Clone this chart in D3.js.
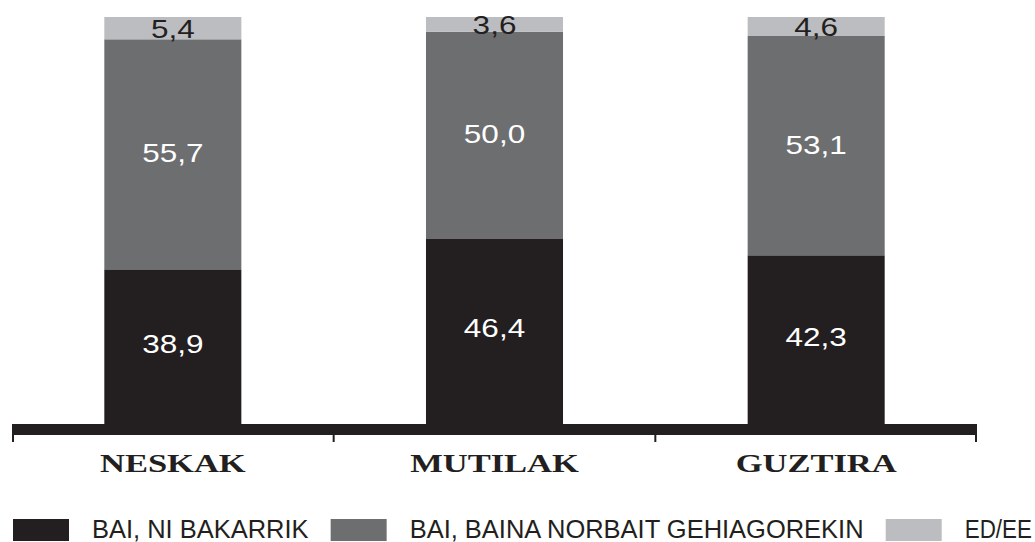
<!DOCTYPE html>
<html>
<head>
<meta charset="utf-8">
<script src="https://cdn.jsdelivr.net/npm/d3@7"></script>
<style>
  html, body { margin: 0; padding: 0; background: #fff; }
  svg { display: block; }
</style>
</head>
<body>
<svg id="chart" width="1035" height="542"></svg>
<script>
// Categories along the x axis
const categories = ["NESKAK", "MUTILAK", "GUZTIRA"];
// Series names (stack order, bottom to top)
const seriesNames = ["BAI, NI BAKARRIK", "BAI, BAINA NORBAIT GEHIAGOREKIN", "ED/EE"];
// Percentages per category for each series
const baiBakarrik = [38.9, 46.4, 42.3];
const baiNorbait  = [55.7, 50.0, 53.1];
const edEe        = [5.4, 3.6, 4.6];

const colors = ["#231f20", "#6d6e70", "#bcbdc0"];
const labelColors = ["#ffffff", "#ffffff", "#231f20"];
// vertical nudge of each series' value label from its segment centre
const labelShift = [3, 8, 9.5];

const width = 1035;
const svg = d3.select("#chart");

const rows = categories.map((c, i) => ({
  cat: c,
  s0: baiBakarrik[i],
  s1: baiNorbait[i],
  s2: edEe[i]
}));

const x = d3.scaleBand()
  .domain(categories)
  .range([12, 977])
  .paddingInner(0.574)
  .paddingOuter(0.287);

const y = d3.scaleLinear()
  .domain([0, 100])
  .range([430, 17]);

const stack = d3.stack().keys(["s0", "s1", "s2"]);
const layers = stack(rows);

// Stacked bars
const g = svg.append("g");
layers.forEach((layer, li) => {
  g.selectAll(null)
    .data(layer)
    .join("rect")
    .attr("x", d => x(d.data.cat))
    .attr("width", x.bandwidth())
    .attr("y", d => y(d[1]))
    .attr("height", d => y(d[0]) - y(d[1]))
    .attr("fill", colors[li]);
});

// Value labels (decimal comma)
const fmt = v => d3.format(".1f")(v).replace(".", ",");
const sxVal = 1.26;
layers.forEach((layer, li) => {
  g.selectAll(null)
    .data(layer)
    .join("text")
    .attr("transform", d => {
      const cx = x(d.data.cat) + x.bandwidth() / 2;
      const cy = (y(d[0]) + y(d[1])) / 2 + labelShift[li];
      return `translate(${cx},${cy}) scale(${sxVal},1)`;
    })
    .attr("text-anchor", "middle")
    .attr("font-family", "'Liberation Sans', Arial, sans-serif")
    .attr("font-size", 25)
    .attr("fill", labelColors[li])
    .text(d => fmt(d[1] - d[0]));
});

// Axis: thick baseline with ticks at band boundaries
const [r0, r1] = x.range();
const axisG = svg.append("g");
axisG.append("rect")
  .attr("x", r0)
  .attr("y", 424)
  .attr("width", r1 - r0)
  .attr("height", 11)
  .attr("fill", "#231f20");
const bounds = d3.range(categories.length + 1).map(i => r0 + i * x.step());
axisG.selectAll(null)
  .data(bounds)
  .join("line")
  .attr("x1", (d, i) => i === 0 ? d + 1 : (i === bounds.length - 1 ? d - 1 : d))
  .attr("x2", (d, i) => i === 0 ? d + 1 : (i === bounds.length - 1 ? d - 1 : d))
  .attr("y1", 434)
  .attr("y2", 442)
  .attr("stroke", "#231f20")
  .attr("stroke-width", 2);

// Category labels
const sxCat = 1.38;
axisG.selectAll(null)
  .data(categories)
  .join("text")
  .attr("transform", d => `translate(${x(d) + x.bandwidth() / 2},472) scale(${sxCat},1)`)
  .attr("text-anchor", "middle")
  .attr("font-family", "'Liberation Serif', 'Times New Roman', serif")
  .attr("font-weight", "bold")
  .attr("font-size", 25)
  .attr("fill", "#231f20")
  .text(d => d);

// Legend laid out left to right, condensed type; the last entry is
// squeezed if needed so it stays inside the drawing
const legend = svg.append("g");
const sxLeg = 0.98;
let lx = 13;
seriesNames.forEach((name, i) => {
  legend.append("rect")
    .attr("x", lx)
    .attr("y", 519)
    .attr("width", 56)
    .attr("height", 22)
    .attr("fill", colors[i]);
  lx += 56 + 23;
  const t = legend.append("text")
    .attr("font-family", "'Liberation Sans', Arial, sans-serif")
    .attr("font-size", 26)
    .attr("fill", "#231f20")
    .text(name);
  const w = t.node().getComputedTextLength();
  const sx = Math.min(sxLeg, (width - 3 - lx) / w);
  t.attr("transform", `translate(${lx},538) scale(${sx},1)`);
  lx += w * sx + 22;
});
</script>
</body>
</html>
